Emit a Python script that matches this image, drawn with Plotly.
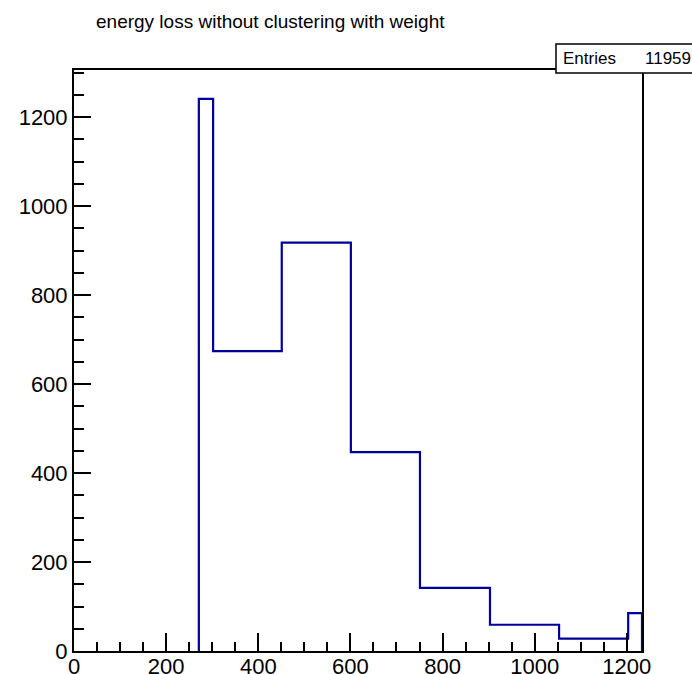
import plotly.graph_objects as go

# Histogram data (bin edges and contents)
bin_edges = [271, 302, 451, 601, 751, 903, 1053, 1203, 1233]
bin_counts = [1241, 674, 918, 447, 142, 59, 28, 85]
title_text = "energy loss without clustering with weight"
entries = 11959
x_ticks = [0, 200, 400, 600, 800, 1000, 1200]
y_ticks = [0, 200, 400, 600, 800, 1000, 1200]

# build step outline
xs = [bin_edges[0]]
ys = [0]
for i, c in enumerate(bin_counts):
    xs += [bin_edges[i], bin_edges[i + 1]]
    ys += [c, c]
xs.append(bin_edges[-1])
ys.append(0)

W, H = 692, 674
L, R, T, B = 74, 50, 70, 23
pw, ph = W - L - R, H - T - B

FONT = "Liberation Sans, Arial, sans-serif"

fig = go.Figure()
fig.add_trace(go.Scatter(x=xs, y=ys, mode="lines",
                         line=dict(color="#00009a", width=2.2),
                         hoverinfo="skip", showlegend=False, cliponaxis=True))

tickfont = dict(family=FONT, size=22, color="#000")
fig.update_layout(
    width=W, height=H, autosize=False,
    margin=dict(l=L, r=R, t=T, b=B, pad=0),
    paper_bgcolor="white", plot_bgcolor="white",
    showlegend=False,
    xaxis=dict(range=[0, 1233], tickvals=x_ticks, ticks="inside", ticklen=18,
               tickwidth=2, tickcolor="#000", showgrid=False, zeroline=False,
               showline=True, linewidth=2, linecolor="#000", mirror=True,
               tickfont=tickfont, automargin=False, ticklabelstandoff=-5,
               minor=dict(dtick=50, tick0=0, ticks="inside", ticklen=9,
                          tickwidth=2, tickcolor="#000", showgrid=False)),
    yaxis=dict(range=[0, 1306], tickvals=y_ticks, ticks="inside", ticklen=17,
               tickwidth=2, tickcolor="#000", showgrid=False, zeroline=False,
               showline=True, linewidth=2, linecolor="#000", mirror=True,
               tickfont=tickfont, automargin=False, ticklabelstandoff=0,
               minor=dict(dtick=50, tick0=0, ticks="inside", ticklen=10,
                          tickwidth=2, tickcolor="#000", showgrid=False)),
)

# title
fig.add_annotation(text=title_text, xref="paper", yref="paper",
                   x=(270 - L) / pw, y=1 + (T - 21) / ph,
                   xanchor="center", yanchor="middle", showarrow=False,
                   font=dict(family=FONT, size=19, color="#000"))

# stats box
bx0, by0, bx1, by1 = 556, 44, 720, 73
fig.add_shape(type="rect", xref="paper", yref="paper",
              x0=(bx0 - L) / pw, x1=(bx1 - L) / pw,
              y0=1 + (T - by1) / ph, y1=1 + (T - by0) / ph,
              line=dict(color="#000", width=1.5), fillcolor="white", layer="above")
fig.add_annotation(text="Entries", xref="paper", yref="paper",
                   x=(561 - L) / pw, y=1 + (T - 58.5) / ph, xanchor="left", yanchor="middle",
                   showarrow=False,
                   font=dict(family=FONT, size=17, color="#000"))
fig.add_annotation(text=str(entries), xref="paper", yref="paper",
                   x=(693 - L) / pw, y=1 + (T - 58.5) / ph, xanchor="right", yanchor="middle",
                   showarrow=False,
                   font=dict(family=FONT, size=17, color="#000"))

fig.write_html("out.html")
